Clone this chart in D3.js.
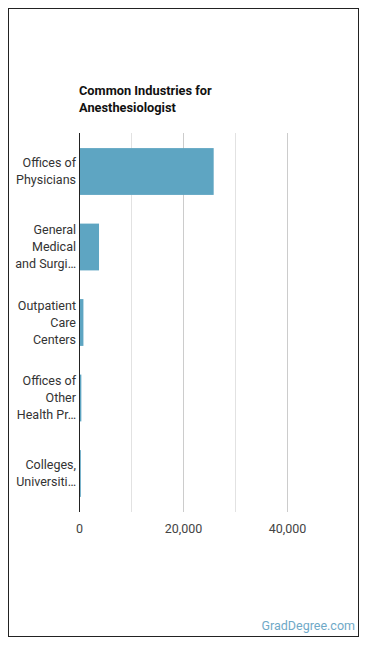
<!DOCTYPE html>
<html>
<head>
<meta charset="utf-8">
<script src="https://cdn.jsdelivr.net/npm/d3@7"></script>
<style>
  body { margin: 0; background: #fff; }
  svg { display: block; font-family: Roboto, "Noto Sans", sans-serif; }
</style>
</head>
<body>
<svg id="chart" width="370" height="648"></svg>
<script>
// values
const industries = [
    "Offices of Physicians",
    "General Medical and Surgical Hospitals",
    "Outpatient Care Centers",
    "Offices of Other Health Practitioners",
    "Colleges, Universities, and Professional Schools"
];
const labelLines = [
    ["Offices of", "Physicians"],
    ["General", "Medical", "and Surgi\u2026"],
    ["Outpatient", "Care", "Centers"],
    ["Offices of", "Other", "Health Pr\u2026"],
    ["Colleges,", "Universiti\u2026"]
];
const employees = [25900, 3850, 850, 450, 350];
const xTicks = [0, 20000, 40000];
const gridTicks = [10000, 20000, 30000, 40000];

const data = industries.map((d, i) => ({ name: d, lines: labelLines[i], value: employees[i] }));

const svg = d3.select("#chart");
const margin = { top: 133, right: 31, bottom: 136, left: 79 },
    width = 370, height = 648;

// frame
svg.append("rect")
    .attr("x", 8.5).attr("y", 8.5)
    .attr("width", 350).attr("height", 628)
    .attr("fill", "none")
    .attr("stroke", "#222")
    .attr("stroke-width", 1);

// title
svg.append("text")
    .attr("x", margin.left)
    .attr("y", 95)
    .attr("font-size", 12.8)
    .attr("font-weight", "bold")
    .attr("fill", "#111")
    .selectAll("tspan")
    .data(["Common Industries for", "Anesthesiologist"])
    .join("tspan")
    .attr("x", margin.left)
    .attr("dy", (d, i) => i ? 17 : 0)
    .text(d => d);

const x = d3.scaleLinear()
    .domain([0, 50000])
    .range([margin.left, width - margin.right]);

const y = d3.scaleBand()
    .domain(industries)
    .range([margin.top, height - margin.bottom])
    .paddingInner(0.38)
    .paddingOuter(0.2);

// grid
svg.append("g")
    .selectAll("line")
    .data(gridTicks)
    .join("line")
    .attr("x1", d => Math.round(x(d)) + 0.5)
    .attr("x2", d => Math.round(x(d)) + 0.5)
    .attr("y1", margin.top)
    .attr("y2", height - margin.bottom)
    .attr("stroke", d => d % 20000 === 0 ? "#ccc" : "#e2e2e2")
    .attr("stroke-width", 1);

// bars
svg.append("g")
    .selectAll("rect")
    .data(data)
    .join("rect")
    .attr("x", x(0))
    .attr("y", d => y(d.name))
    .attr("width", d => x(d.value) - x(0))
    .attr("height", y.bandwidth())
    .attr("fill", "#5ea5c2");

// x axis labels
const xAxis = g => g
    .attr("transform", `translate(0,${height - margin.bottom})`)
    .call(d3.axisBottom(x).tickValues(xTicks).tickFormat(d3.format(",")).tickSize(0).tickPadding(12))
    .call(g => g.select(".domain").remove())
    .call(g => g.selectAll("text")
        .attr("font-family", "Roboto, sans-serif")
        .attr("font-size", 12.5)
        .attr("fill", "#444"));
svg.append("g").call(xAxis);

// y axis line + wrapped labels
const yAxis = g => g
    .attr("transform", `translate(${margin.left},0)`)
    .call(d3.axisLeft(y).tickSize(0).tickPadding(4).tickFormat(""))
    .call(g => g.select(".domain")
        .attr("stroke", "#222")
        .attr("d", `M0.5,${margin.top}V${height - margin.bottom}`));
const yg = svg.append("g").call(yAxis);

yg.selectAll(".tick").each(function (name, i) {
    const lines = labelLines[i];
    const t = d3.select(this).select("text")
        .attr("font-family", "Roboto, sans-serif")
        .attr("font-size", 12.5)
        .attr("fill", "#333")
        .attr("x", -3)
        .attr("dy", null)
        .attr("text-anchor", "end");
    t.selectAll("tspan")
        .data(lines)
        .join("tspan")
        .attr("x", -3)
        .attr("y", (d, j) => (j - (lines.length - 1) / 2) * 17)
        .attr("dy", "0.35em")
        .text(d => d);
});

// source
svg.append("text")
    .attr("x", 355)
    .attr("y", 630)
    .attr("text-anchor", "end")
    .attr("font-size", 12.5)
    .attr("fill", "#6fa9c7")
    .text("GradDegree.com");
</script>
</body>
</html>
